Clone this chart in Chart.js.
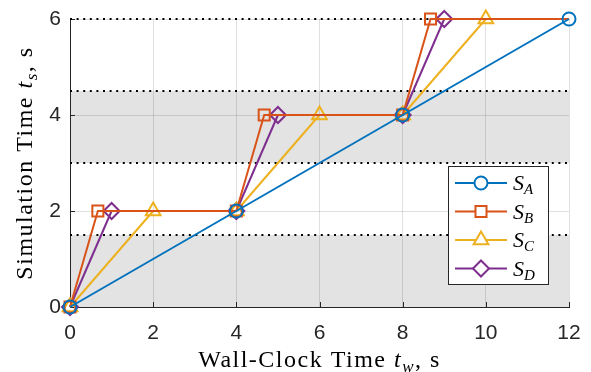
<!DOCTYPE html>
<html>
<head>
<meta charset="utf-8">
<script src="https://cdn.jsdelivr.net/npm/chart.js@4.4.1/dist/chart.umd.min.js"></script>
<style>
  html, body { margin: 0; padding: 0; background: #fff; }
  #wrap { width: 591px; height: 372px; position: relative; }
</style>
</head>
<body>
<div id="wrap"><canvas id="simChart" width="591" height="372"></canvas></div>
<script>
// --- DATA ---
const twA = [0, 4, 8, 12];
const tsA = [0, 2, 4, 6];
const twB = [0, 0.67, 4, 4.67, 8, 8.67, 12];
const tsB = [0, 2, 2, 4, 4, 6, 6];
const twC = [0, 2, 4, 6, 8, 10, 12];
const tsC = [0, 2, 2, 4, 4, 6, 6];
const twD = [0, 1, 4, 5, 8, 9, 12];
const tsD = [0, 2, 2, 4, 4, 6, 6];
const xTicks = [0, 2, 4, 6, 8, 10, 12];
const yTicks = [0, 2, 4, 6];
const bandRanges = [[0, 1.5], [3, 4.5]];
const dottedLevels = [1.5, 3, 4.5, 6];
const seriesNames = ["A", "B", "C", "D"];

const colors = ["#0072BD", "#D95319", "#EDB120", "#7E2F8E"];
const styles = ["circle", "rect", "triangle", "rectRot"];
const radii = [6.5, 7.8, 8.5, 8];

function toPoints(xs, ys) {
  return xs.map((x, i) => ({ x: x, y: ys[i] }));
}
// marker on every point except the tail end (series B, C, D)
function markerRadii(n, r, lastToo) {
  return Array.from({ length: n }, (_, i) => (i === n - 1 && !lastToo ? 0 : r));
}
// flat parts of C and D are dashed so the overlapping lines interleave
function flatDash(dash, offset) {
  return {
    borderDash: (c) => (c.p0.parsed.y === c.p1.parsed.y ? dash : []),
    borderDashOffset: (c) => (c.p0.parsed.y === c.p1.parsed.y ? offset : 0),
  };
}

const sets = [
  [twA, tsA, true],
  [twB, tsB, false],
  [twC, tsC, false],
  [twD, tsD, false],
];

const datasets = sets.map((s, i) => ({
  label: "S" + seriesNames[i],
  data: toPoints(s[0], s[1]),
  borderColor: colors[i],
  borderWidth: 2,
  pointStyle: styles[i],
  pointRadius: markerRadii(s[0].length, radii[i], s[2]),
  pointHoverRadius: markerRadii(s[0].length, radii[i], s[2]),
  pointBorderColor: colors[i],
  pointBackgroundColor: "rgba(0,0,0,0)",
  pointBorderWidth: 2,
  showLine: true,
  tension: 0,
  fill: false,
  clip: false,
  segment: i === 2 ? flatDash([8, 8], 0) : i === 3 ? flatDash([8, 8], 8) : {},
}));

const AXIS = "#262626";
const SERIF = "'Liberation Serif'";

// --- PLUGIN: bands, dotted lines, ticks, titles, legend ---
const decor = {
  id: "decor",
  beforeDraw(chart) {
    const { ctx, chartArea: a, scales } = chart;
    ctx.save();
    ctx.fillStyle = "#e3e3e3";
    bandRanges.forEach(([lo, hi]) => {
      const y1 = scales.y.getPixelForValue(hi);
      const y0 = scales.y.getPixelForValue(lo);
      ctx.fillRect(a.left, y1, a.right - a.left, y0 - y1);
    });
    ctx.restore();
  },
  beforeDatasetsDraw(chart) {
    const { ctx, chartArea: a, scales } = chart;
    ctx.save();
    // inward tick marks
    ctx.strokeStyle = AXIS;
    ctx.lineWidth = 1;
    xTicks.forEach((v) => {
      const x = Math.round(scales.x.getPixelForValue(v)) + 0.5;
      ctx.beginPath();
      ctx.moveTo(x, a.bottom);
      ctx.lineTo(x, a.bottom - 5);
      ctx.stroke();
    });
    yTicks.forEach((v) => {
      const y = Math.round(scales.y.getPixelForValue(v)) + 0.5;
      ctx.beginPath();
      ctx.moveTo(a.left, y);
      ctx.lineTo(a.left + 5, y);
      ctx.stroke();
    });
    // dotted level lines
    ctx.strokeStyle = "#000";
    ctx.lineWidth = 2;
    ctx.setLineDash([2, 4.6]);
    dottedLevels.forEach((v) => {
      const y = Math.round(scales.y.getPixelForValue(v));
      ctx.beginPath();
      ctx.moveTo(a.left, y);
      ctx.lineTo(a.right, y);
      ctx.stroke();
    });
    ctx.restore();
  },
  afterDraw(chart) {
    const { ctx, chartArea: a } = chart;
    ctx.save();
    ctx.textBaseline = "alphabetic";

    // x title: Wall-Clock Time t_w, s
    drawMath(ctx, [
      ["Wall-Clock Time ", "24px " + SERIF, 0],
      ["t", "italic 24px " + SERIF, 0],
      ["w", "italic 17px " + SERIF, 5],
      [", s", "24px " + SERIF, 0],
    ], (a.left + a.right) / 2, 367, 0);

    // y title: Simulation Time t_s, s
    drawMath(ctx, [
      ["Simulation Time ", "24px " + SERIF, 0],
      ["t", "italic 24px " + SERIF, 0],
      ["s", "italic 17px " + SERIF, 5],
      [", s", "24px " + SERIF, 0],
    ], 32, (a.top + a.bottom) / 2, -Math.PI / 2);

    // legend box
    const lx = 448.5, ly = 166.5, lw = 100, lh = 118;
    ctx.fillStyle = "#fff";
    ctx.fillRect(lx, ly, lw, lh);
    ctx.strokeStyle = AXIS;
    ctx.lineWidth = 1;
    ctx.strokeRect(lx, ly, lw, lh);
    seriesNames.forEach((nm, i) => {
      const y = 183 + i * 28.5;
      ctx.strokeStyle = colors[i];
      ctx.lineWidth = 2;
      ctx.beginPath();
      ctx.moveTo(455, y);
      ctx.lineTo(507, y);
      ctx.stroke();
      drawMarker(ctx, styles[i], 481, y, radii[i], colors[i]);
      ctx.fillStyle = "#000";
      ctx.textAlign = "left";
      ctx.font = "italic 22px " + SERIF;
      ctx.fillText("S", 513, y + 7);
      const sw = ctx.measureText("S").width;
      ctx.font = "italic 15px " + SERIF;
      ctx.fillText(nm, 513 + sw, y + 11);
    });
    ctx.restore();
  },
};

function drawMath(ctx, parts, cx, cy, rot) {
  ctx.save();
  ctx.letterSpacing = "1.5px";
  let total = 0;
  parts.forEach((p) => {
    ctx.font = p[1];
    total += ctx.measureText(p[0]).width;
  });
  ctx.translate(cx, cy);
  ctx.rotate(rot);
  ctx.fillStyle = "#000";
  ctx.textAlign = "left";
  let x = -total / 2;
  parts.forEach((p) => {
    ctx.font = p[1];
    ctx.fillText(p[0], x, p[2]);
    x += ctx.measureText(p[0]).width;
  });
  ctx.restore();
}

function drawMarker(ctx, style, x, y, r, color) {
  ctx.save();
  ctx.strokeStyle = color;
  ctx.fillStyle = "#fff";
  ctx.lineWidth = 2;
  ctx.beginPath();
  if (style === "circle") {
    ctx.arc(x, y, r, 0, Math.PI * 2);
  } else if (style === "rect") {
    const s = Math.SQRT1_2 * r;
    ctx.rect(x - s, y - s, 2 * s, 2 * s);
  } else if (style === "triangle") {
    for (let k = 0; k < 3; k++) {
      const ang = (k * 2 * Math.PI) / 3;
      const px = x + Math.sin(ang) * r, py = y - Math.cos(ang) * r;
      k === 0 ? ctx.moveTo(px, py) : ctx.lineTo(px, py);
    }
    ctx.closePath();
  } else {
    ctx.moveTo(x - r, y);
    ctx.lineTo(x, y - r);
    ctx.lineTo(x + r, y);
    ctx.lineTo(x, y + r);
    ctx.closePath();
  }
  ctx.fill();
  ctx.stroke();
  ctx.restore();
}

new Chart(document.getElementById("simChart"), {
  type: "line",
  data: { datasets: datasets },
  plugins: [decor],
  options: {
    responsive: false,
    animation: false,
    events: [],
    layout: { padding: { top: 19, right: 22, left: 0, bottom: 0 } },
    plugins: { legend: { display: false }, tooltip: { enabled: false } },
    scales: {
      x: {
        type: "linear",
        min: 0,
        max: 12,
        afterFit: (s) => { s.height = 65; s.paddingLeft = 0; s.paddingRight = 0; },
        afterBuildTicks: (s) => { s.ticks = xTicks.map((v) => ({ value: v })); },
        grid: { color: "rgba(0,0,0,0.12)", drawTicks: false },
        border: { color: AXIS, width: 1 },
        ticks: {
          color: AXIS,
          padding: 14,
          maxRotation: 0,
          font: { family: "'Liberation Sans', Arial", size: 21 },
        },
      },
      y: {
        type: "linear",
        min: 0,
        max: 6,
        afterFit: (s) => { s.width = 70; s.paddingTop = 0; s.paddingBottom = 0; },
        afterBuildTicks: (s) => { s.ticks = yTicks.map((v) => ({ value: v })); },
        grid: { color: "rgba(0,0,0,0.12)", drawTicks: false },
        border: { color: AXIS, width: 1 },
        ticks: {
          color: AXIS,
          padding: 9,
          font: { family: "'Liberation Sans', Arial", size: 21 },
        },
      },
    },
  },
});
</script>
</body>
</html>
